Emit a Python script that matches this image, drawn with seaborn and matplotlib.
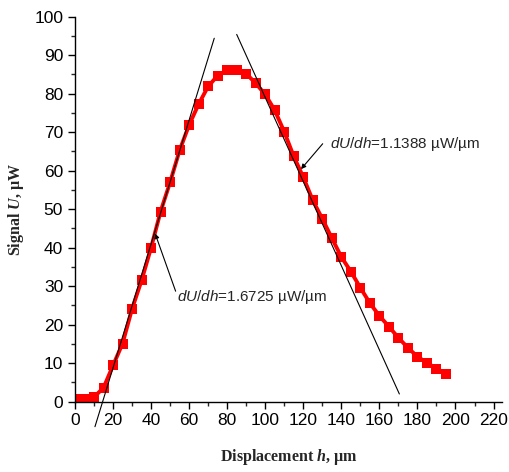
import numpy as np
import pandas as pd
import seaborn as sns
from matplotlib import pyplot as plt

# measured signal vs displacement
displacement = [0, 5, 10, 15, 20, 25, 30, 35, 40, 45, 50, 55, 60, 65, 70, 75, 80, 85,
                90, 95, 100, 105, 110, 115, 120, 125, 130, 135, 140, 145, 150, 155,
                160, 165, 170, 175, 180, 185, 190, 195]
signal = [0.7, 0.7, 1.2, 3.6, 9.4, 15.1, 24.1, 31.5, 40.0, 49.4, 57.0, 65.3, 71.9,
          77.3, 81.9, 84.7, 86.2, 86.2, 85.2, 82.7, 79.8, 75.7, 70.1, 63.7, 58.3,
          52.3, 47.5, 42.5, 37.6, 33.8, 29.6, 25.6, 22.3, 19.5, 16.6, 14.0, 11.7,
          10.1, 8.6, 7.3]

# tangent lines (ends)
rise_x = [10.5, 73.2]
rise_y = [-6.5, 94.4]
fall_x = [85.0, 170.5]
fall_y = [95.4, 2.0]

# slope labels
rise_label = "$\\it{dU/dh}$=1.6725 µW/µm"
fall_label = "$\\it{dU/dh}$=1.1388 µW/µm"
rise_text = (53.5, 27.2)
rise_tail = (52.9, 28.7)
rise_head = (42.1, 43.7)
fall_text = (134.1, 67.0)
fall_tail = (130.2, 67.0)
fall_head = (118.8, 60.4)

sns.set_style("ticks")
plt.rcParams['font.family'] = ['Liberation Sans', 'DejaVu Sans']
plt.rcParams['mathtext.fontset'] = 'custom'
plt.rcParams['mathtext.rm'] = 'Liberation Sans'
plt.rcParams['mathtext.it'] = 'Liberation Sans:italic'
plt.rcParams['mathtext.bfit'] = 'Liberation Serif:bold:italic'

df = pd.DataFrame({"h": displacement, "U": signal})

fig = plt.figure(figsize=(5.09, 4.72), dpi=100)
ax = fig.add_axes([0.1473, 0.149, 0.8384, 0.8156])

sns.lineplot(data=df, x="h", y="U", ax=ax, color="red", linewidth=2.8,
             marker="s", markersize=7.5, markeredgewidth=0, zorder=2)
ax.plot(rise_x, rise_y, color="black", lw=0.8, clip_on=False, zorder=3)
ax.plot(fall_x, fall_y, color="black", lw=0.8, clip_on=False, zorder=3)

ax.annotate("", xy=rise_head, xytext=rise_tail,
            arrowprops=dict(arrowstyle="-|>", color="black", lw=0.8, mutation_scale=7,
                            shrinkA=0, shrinkB=0))
ax.annotate("", xy=fall_head, xytext=fall_tail,
            arrowprops=dict(arrowstyle="-|>", color="black", lw=0.8, mutation_scale=7,
                            shrinkA=0, shrinkB=0))
ax.text(*rise_text, rise_label, ha="left", va="center", fontsize=11)
ax.text(*fall_text, fall_label, ha="left", va="center", fontsize=11)

ax.set_xlim(0, 224.3)
ax.set_ylim(0, 100)
ax.set_xticks(np.arange(0, 221, 20))
ax.set_xticks(np.arange(10, 221, 20), minor=True)
ax.set_yticks(np.arange(0, 101, 10))
ax.set_yticks(np.arange(5, 100, 10), minor=True)
ax.tick_params(which="major", length=5, width=1, direction="out", labelsize=12.5, colors="black")
ax.tick_params(which="minor", length=3, width=1, direction="out")
sns.despine(ax=ax)
for s in ["left", "bottom"]:
    ax.spines[s].set_color("black")
    ax.spines[s].set_linewidth(1)

ax.set_xlabel("Displacement $\\mathbfit{h}$, µm", fontfamily="Liberation Serif",
              fontweight="bold", fontsize=11.5, labelpad=13)
ax.set_ylabel("Signal $\\mathbfit{U}$, µW", fontfamily="Liberation Serif",
              fontweight="bold", fontsize=11.5, labelpad=6)

fig.savefig("out.png", dpi=100)
